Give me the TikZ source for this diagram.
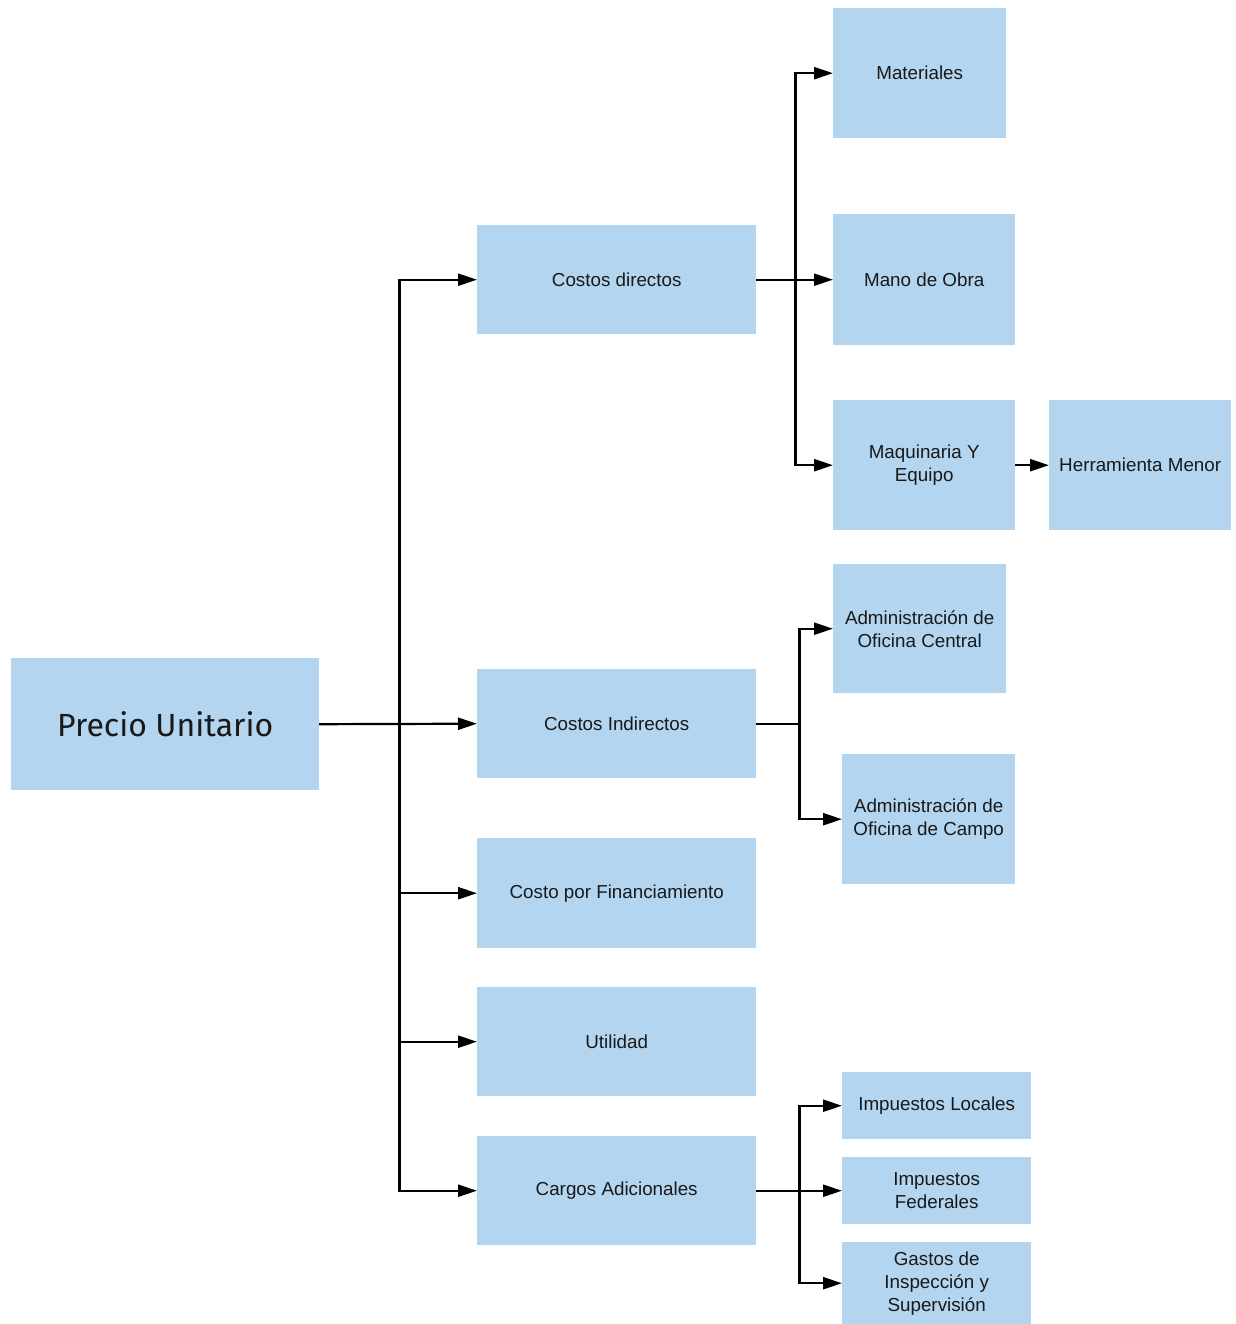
\documentclass[tikz,border=0pt]{standalone}
\usepackage{fontspec}
\setmainfont{Liberation Sans}
\newfontfamily\pufont{Fira Sans}
\usetikzlibrary{arrows.meta}
\definecolor{boxblue}{HTML}{B3D5EF}
\tikzset{
  box/.style={fill=boxblue, draw=none, inner sep=0pt, align=center, anchor=north west,
    font=\fontsize{18.8}{23}\selectfont, text=black!90},
  arr/.style={line width=2.2pt, -{Triangle[length=19pt,width=12pt]}},
  ln/.style={line width=2.2pt}
}
\begin{document}
\begin{tikzpicture}[x=1pt,y=-1pt]
\useasboundingbox (0,0) rectangle (1235,1324);
% nodes
\node[box, minimum width=308pt, minimum height=132pt, font=\pufont\fontsize{32}{38}\selectfont] (pu) at (11,658) {Precio Unitario};
\node[box, minimum width=279pt, minimum height=109pt] (cd) at (477,225) {Costos directos};
\node[box, minimum width=279pt, minimum height=109pt] (ci) at (477,669) {Costos Indirectos};
\node[box, minimum width=279pt, minimum height=110pt] (cf) at (477,838) {Costo por Financiamiento};
\node[box, minimum width=279pt, minimum height=109pt] (ut) at (477,987) {Utilidad};
\node[box, minimum width=279pt, minimum height=109pt] (ca) at (477,1136) {Cargos Adicionales};
\node[box, minimum width=173pt, minimum height=130pt] (mat) at (833,8) {Materiales};
\node[box, minimum width=182pt, minimum height=131pt] (mo) at (833,214) {Mano de Obra};
\node[box, minimum width=182pt, minimum height=130pt] (mq) at (833,400) {Maquinaria Y\\Equipo};
\node[box, minimum width=182pt, minimum height=130pt] (hm) at (1049,400) {Herramienta Menor};
\node[box, minimum width=173pt, minimum height=129pt] (aoc) at (833,564) {Administración de\\Oficina Central};
\node[box, minimum width=173pt, minimum height=130pt] (aca) at (842,754) {Administración de\\Oficina de Campo};
\node[box, minimum width=189pt, minimum height=67pt] (il) at (842,1072) {Impuestos Locales};
\node[box, minimum width=189pt, minimum height=67pt] (if) at (842,1157) {Impuestos\\Federales};
\node[box, minimum width=189pt, minimum height=82pt] (gi) at (842,1242) {Gastos de\\Inspección y\\Supervisión};
% connectors
\draw[arr] (pu.east) -- (ci.west);
\draw[arr] (pu.east) -- ++(80,0) |- (cd.west);
\draw[arr] (pu.east) -- ++(80,0) |- (cf.west);
\draw[arr] (pu.east) -- ++(80,0) |- (ut.west);
\draw[arr] (pu.east) -- ++(80,0) |- (ca.west);
\draw[arr] (cd.east) -- (mo.west);
\draw[arr] (cd.east) -- ++(39,0) |- (mat.west);
\draw[arr] (cd.east) -- ++(39,0) |- (mq.west);
\draw[arr] (mq.east) -- (hm.west);
\draw[arr] (ci.east) -- ++(43,0) |- (aoc.west);
\draw[arr] (ci.east) -- ++(43,0) |- (aca.west);
\draw[arr] (ca.east) -- (if.west);
\draw[arr] (ca.east) -- ++(43,0) |- (il.west);
\draw[arr] (ca.east) -- ++(43,0) |- (gi.west);
\end{tikzpicture}
\end{document}
